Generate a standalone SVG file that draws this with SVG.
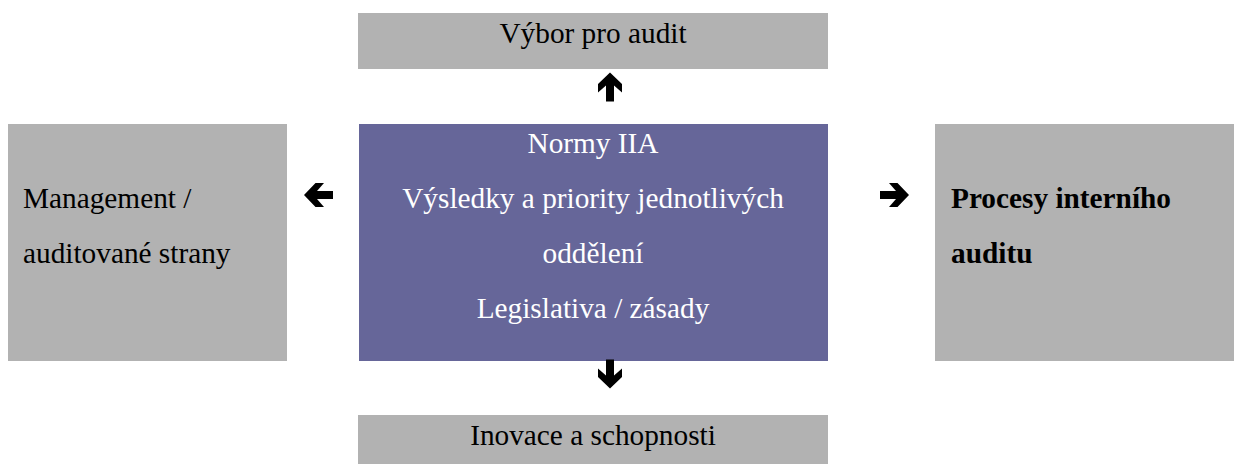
<svg xmlns="http://www.w3.org/2000/svg" width="1236" height="464" viewBox="0 0 1236 464">
<style>
.g{fill:#b2b2b2}
.p{fill:#666699}
.t{font-family:"Liberation Serif","Times New Roman",serif;font-size:29.3px;fill:#000}
.w{fill:#fff}
.b{font-weight:bold}
.a{fill:#000}
</style>
<defs>
<path id="arr" d="M0,-14.5 L12,-3 L12,5.5 L4,-1.5 L4,14.5 L-4,14.5 L-4,-1.5 L-12,5.5 L-12,-3 Z"/>
</defs>
<rect width="1236" height="464" fill="#fff"/>
<g id="vybor">
<rect class="g" x="358" y="13" width="470" height="56"/>
<text class="t" x="593" y="43" text-anchor="middle">Výbor pro audit</text>
</g>
<g id="management">
<rect class="g" x="8" y="124" width="279" height="237"/>
<text class="t" x="23" y="208">Management /</text>
<text class="t" x="23" y="263">auditované strany</text>
</g>
<g id="center">
<rect class="p" x="359" y="124" width="469" height="237"/>
<text class="t w" x="593" y="153" text-anchor="middle">Normy IIA</text>
<text class="t w" x="593" y="208" text-anchor="middle">Výsledky a priority jednotlivých</text>
<text class="t w" x="593" y="263" text-anchor="middle">oddělení</text>
<text class="t w" x="593" y="318" text-anchor="middle">Legislativa / zásady</text>
</g>
<g id="procesy">
<rect class="g" x="935" y="124" width="299" height="237"/>
<text class="t b" x="951" y="208">Procesy interního</text>
<text class="t b" x="951" y="263">auditu</text>
</g>
<g id="inovace">
<rect class="g" x="358" y="415" width="470" height="49"/>
<text class="t" x="593" y="445" text-anchor="middle">Inovace a schopnosti</text>
</g>
<g id="connectors">
<use href="#arr" class="a" transform="translate(610,87)"/>
<use href="#arr" class="a" transform="translate(610,374) rotate(180)"/>
<use href="#arr" class="a" transform="translate(318.5,195) rotate(-90)"/>
<use href="#arr" class="a" transform="translate(894.5,195) rotate(90)"/>
</g>
</svg>
